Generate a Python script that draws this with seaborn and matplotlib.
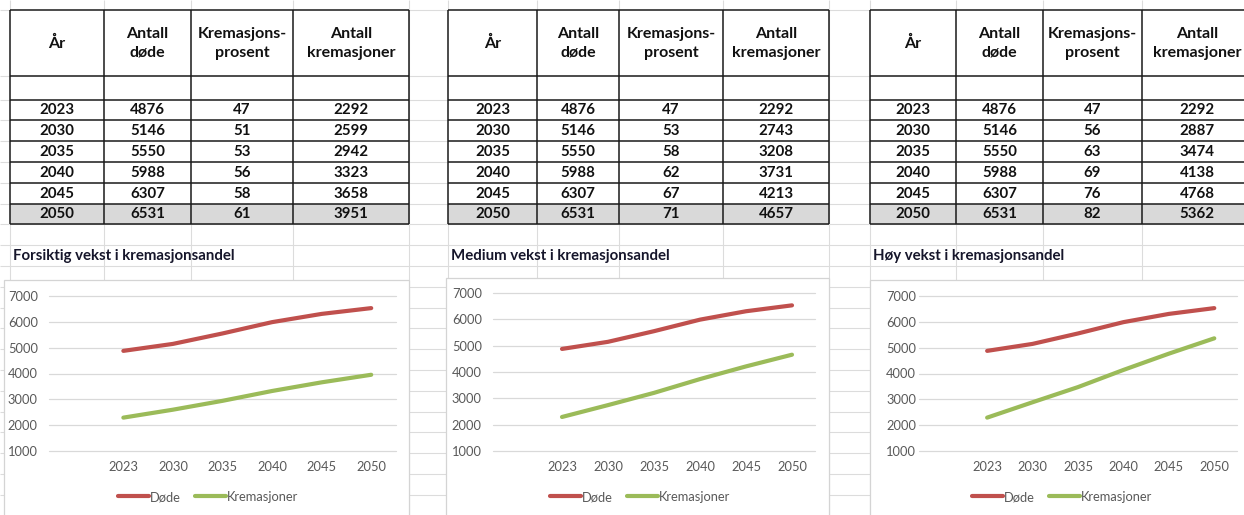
import numpy as np
import pandas as pd
import matplotlib
matplotlib.use("Agg")
from matplotlib import pyplot as plt
from matplotlib.patches import Rectangle
import seaborn as sb

years = [2023, 2030, 2035, 2040, 2045, 2050]
dode = [4876, 5146, 5550, 5988, 6307, 6531]

prosent_forsiktig = [47, 51, 53, 56, 58, 61]
krem_forsiktig = [2292, 2599, 2942, 3323, 3658, 3951]

prosent_medium = [47, 53, 58, 62, 67, 71]
krem_medium = [2292, 2743, 3208, 3731, 4213, 4657]

prosent_hoy = [47, 56, 63, 69, 76, 82]
krem_hoy = [2292, 2887, 3474, 4138, 4768, 5362]

titles = ["Forsiktig vekst i kremasjonsandel",
          "Medium vekst i kremasjonsandel",
          "Høy vekst i kremasjonsandel"]
headers = ["År", "Antall\ndøde", "Kremasjons-\nprosent", "Antall\nkremasjoner"]
series_names = ["Døde", "Kremasjoner"]
yticks = [1000, 2000, 3000, 4000, 5000, 6000, 7000]

scenarios = [(prosent_forsiktig, krem_forsiktig),
             (prosent_medium, krem_medium),
             (prosent_hoy, krem_hoy)]

sb.set_style("white")
plt.rcParams['font.family'] = ['Lato', 'DejaVu Sans']

W, H = 1244, 515
fig = plt.figure(figsize=(W / 100, H / 100), dpi=100)

bg = fig.add_axes([0, 0, 1, 1])
bg.set_xlim(0, W)
bg.set_ylim(H, 0)
bg.axis('off')

# layout in pixels
tab_cols = [[10, 104, 191, 293, 409],
            [448, 537, 619, 723, 829],
            [870, 956, 1043, 1142, 1252]]
row_edges = [10, 76] + [99.5 + 20.8 * k for k in range(7)]
sheet_rows = [10, 76] + [99.5 + 20.8 * k for k in range(21)]
boxes = [(4, 280, 409), (446, 278, 829), (870, 280, 1254)]
plots = [(49, 396, 296, 451), (493, 815, 293, 451), (919, 1237, 296, 451)]
legend_x = [208, 640, 1062]
ypads = [8.0, 8.0, 2.0]

red = "#C0504D"
green = "#9BBB59"
gridc = "#DCDCDC"

# spreadsheet gridlines
for y in sheet_rows:
    bg.hlines(y, 0, W, color=gridc, lw=0.8, zorder=0)
for cols in tab_cols:
    for x in cols:
        bg.vlines(x, 0, H, color=gridc, lw=0.8, zorder=0)

for t, (pct, krem) in enumerate(scenarios):
    cols = tab_cols[t]
    # last row grey
    bg.add_patch(Rectangle((cols[0], row_edges[-2]), cols[-1] - cols[0],
                           row_edges[-1] - row_edges[-2], facecolor="#D9D9D9",
                           edgecolor="none", zorder=3))
    bg.add_patch(Rectangle((cols[0], row_edges[0]), cols[-1] - cols[0],
                           row_edges[-2] - row_edges[0], facecolor="white",
                           edgecolor="none", zorder=2))
    for x in cols:
        bg.vlines(x, row_edges[0], row_edges[-1], color="#1a1a1a", lw=1.1, zorder=4)
    for y in row_edges:
        bg.hlines(y, cols[0], cols[-1], color="#1a1a1a", lw=1.1, zorder=4)

    for c, head in enumerate(headers):
        cx = (cols[c] + cols[c + 1]) / 2
        bg.text(cx, (row_edges[0] + row_edges[1]) / 2 + 0.5, head, ha="center", va="center",
                fontsize=11.5, fontweight="bold", linespacing=1.4, color="#111111", zorder=5)

    for r in range(len(years)):
        cy = (row_edges[r + 2] + row_edges[r + 3]) / 2 + 0.5
        vals = [years[r], dode[r], pct[r], krem[r]]
        for c, v in enumerate(vals):
            cx = (cols[c] + cols[c + 1]) / 2
            bg.text(cx, cy, str(v), ha="center", va="center", fontsize=10.8,
                    fontweight="bold", color="#111111", zorder=5)

    bg.text(cols[0] + 3, 256, titles[t], ha="left", va="center", fontsize=10.8,
            fontweight="bold", color="#16162B", zorder=5)

    # chart box
    bx0, by0, bx1 = boxes[t]
    bg.add_patch(Rectangle((bx0, by0), bx1 - bx0, H + 10 - by0, facecolor="white",
                           edgecolor="#D4D4D4", lw=0.9, zorder=6))

    # chart
    px0, px1, py0, py1 = plots[t]
    ax = fig.add_axes([px0 / W, 1 - py1 / H, (px1 - px0) / W, (py1 - py0) / H])
    ax.set_facecolor("none")

    # first category is the empty row of the table, years come after it
    pos = list(range(1, len(years) + 1))
    df = pd.DataFrame({
        "pos": pos + pos,
        "verdi": dode + krem,
        "serie": [series_names[0]] * len(years) + [series_names[1]] * len(years),
    })
    sb.lineplot(data=df, x="pos", y="verdi", hue="serie",
                palette=[red, green], linewidth=3.0, legend=False, ax=ax,
                solid_capstyle="round")

    ax.set_xlim(-0.5, 6.5)
    ax.set_ylim(1000, 7000)
    ax.set_xticks(pos)
    ax.set_xticklabels([str(y) for y in years])
    ax.set_yticks(yticks)
    ax.set_yticklabels([str(v) for v in yticks])
    ax.set_xlabel("")
    ax.set_ylabel("")
    for s in ax.spines.values():
        s.set_visible(False)
    ax.yaxis.grid(True, color="#D9D9D9", lw=0.9)
    ax.xaxis.grid(False)
    ax.set_axisbelow(True)
    for gl in ax.get_ygridlines():
        gl.set_clip_on(False)
    ax.tick_params(axis="both", length=0, labelsize=9.3, colors="#595959")
    ax.tick_params(axis="y", pad=ypads[t])
    ax.tick_params(axis="x", pad=7)

    ax.legend(ax.lines[:2], series_names, loc="center",
              bbox_to_anchor=(legend_x[t] / W, 1 - 497 / H),
              bbox_transform=fig.transFigure, ncol=2, frameon=False,
              fontsize=9.3, handlelength=2.4, handletextpad=0.1,
              columnspacing=1.1, labelcolor="#595959")

fig.savefig("out.png", dpi=100)
